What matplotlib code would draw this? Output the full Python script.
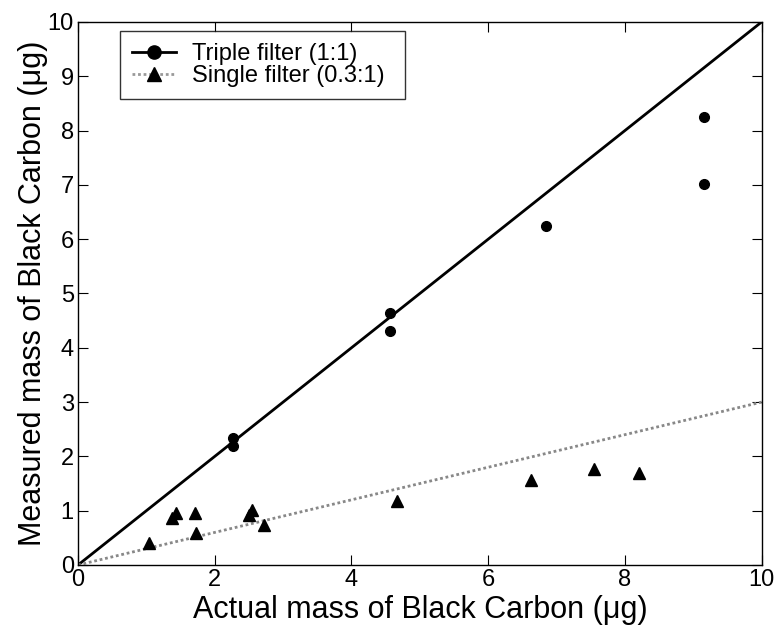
import matplotlib
matplotlib.use("Agg")
import matplotlib.pyplot as plt
import numpy as np

plt.rcParams["font.family"] = ["Liberation Sans", "DejaVu Sans"]

# Triple filter data (circles)
triple_x = [2.27, 2.27, 4.56, 4.56, 6.85, 9.15, 9.15]
triple_y = [2.33, 2.20, 4.64, 4.30, 6.25, 8.25, 7.02]

# Single filter data (triangles)
single_x = [1.04, 1.37, 1.44, 1.71, 1.73, 2.50, 2.55, 2.72, 4.66, 6.63, 7.55, 8.20]
single_y = [0.40, 0.87, 0.95, 0.96, 0.59, 0.92, 1.02, 0.74, 1.18, 1.56, 1.77, 1.70]

# reference lines
line_x = [0, 10]
slope_triple = 1.0
slope_single = 0.3

fig = plt.figure(figsize=(7.78, 6.27), dpi=100)
ax = fig.add_axes([0.1003, 0.0989, 0.8787, 0.8661])

lx = np.array(line_x)
ax.plot(lx, slope_triple * lx, color="black", lw=2, zorder=2)
ax.plot(lx, slope_single * lx, color="#888888", lw=2, ls=(0, (1, 1)), zorder=2)
ax.plot(triple_x, triple_y, "o", color="black", ms=7, zorder=3)
ax.plot(single_x, single_y, "^", color="black", ms=8.5, zorder=3)

# legend proxies: line with marker
h1, = ax.plot([], [], "-o", color="black", lw=2, ms=9.5)
h2, = ax.plot([], [], "^", color="black", ms=10, lw=2)
leg = ax.legend([h1, h2], ["Triple filter (1:1)", "Single filter (0.3:1)"],
                loc="upper left", bbox_to_anchor=(0.061, 0.5, 0.417, 0.483),
                mode="expand", fontsize=17,
                frameon=True, fancybox=False, edgecolor="black",
                handlelength=1.9, borderpad=0.5, borderaxespad=0,
                labelspacing=0.0, handletextpad=0.65)
leg.get_frame().set_linewidth(1.0)
lh = leg.legend_handles[1]
lh.set_linestyle((0, (1, 1)))
lh.set_color("#999999")
lh.set_markerfacecolor("black")
lh.set_markeredgecolor("black")

ax.set_xlim(0, 10)
ax.set_ylim(0, 10)
ax.set_xticks(range(0, 11, 2))
ax.set_yticks(range(0, 11, 1))
ax.tick_params(direction="in", top=True, right=True, labelsize=17, length=7, pad=3)
for s in ax.spines.values():
    s.set_linewidth(1.0)

ax.set_xlabel("Actual mass of Black Carbon (\u03bcg)", fontsize=22, labelpad=3)
ax.set_ylabel("Measured mass of Black Carbon (\u03bcg)", fontsize=22, labelpad=0)

fig.savefig("out.png", dpi=100)
